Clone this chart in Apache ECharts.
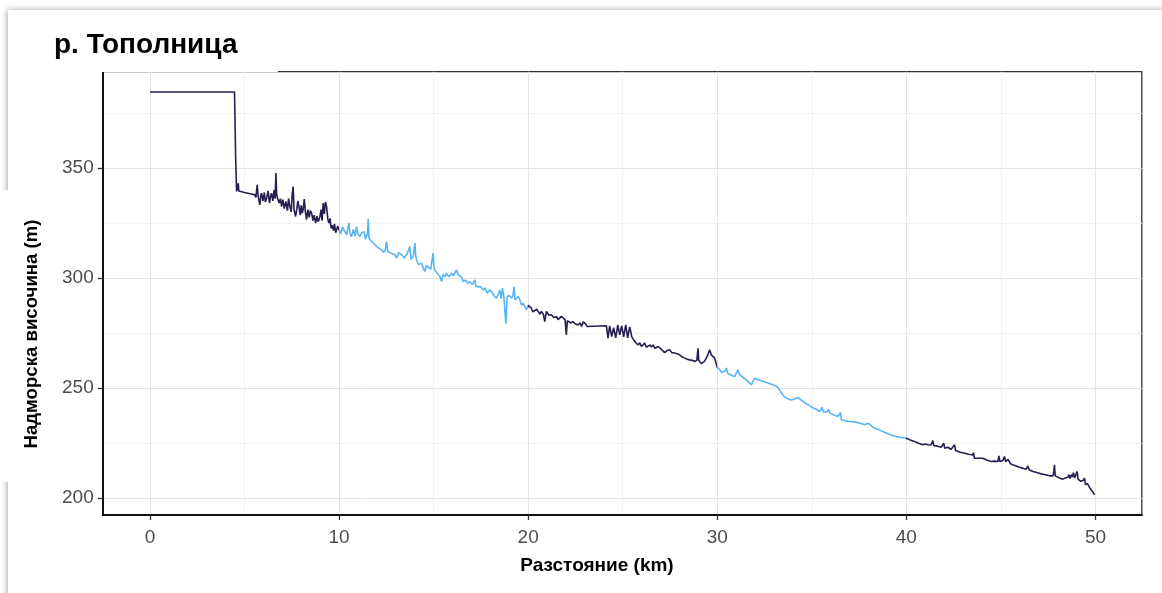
<!DOCTYPE html>
<html>
<head>
<meta charset="utf-8">
<script src="https://cdn.jsdelivr.net/npm/echarts@6/dist/echarts.min.js"></script>
<style>html,body{margin:0;padding:0;background:#fff}#c{width:1162px;height:593px}</style>
</head>
<body>
<div id="c"></div>
<script>
const titleText = 'р. Тополница';
const xName = 'Разстояние (km)';
const yName = 'Надморска височина (m)';
const xTicks = [0, 10, 20, 30, 40, 50];
const xMinorTicks = [5, 15, 25, 35, 45];
const yTicks = [200, 250, 300, 350];
const yMinorTicks = [225, 275, 325, 375];
const stretchBounds = [10, 20, 30, 40];
const stretchColors = ['#251e50', '#56b4f4', '#251e50', '#56b4f4', '#251e50'];

const distKm = [
0,4.47,4.50,4.53,4.58,4.63,4.67,4.70,5.0,5.3,5.55,5.60,5.67,5.72,5.81,5.86,5.90,5.97,6.05,6.10,6.17,6.25,6.32,6.38,6.43,6.50,6.57,6.62,6.66,6.70,6.75,6.83,6.90,6.96,7.03,7.10,7.19,7.27,7.33,7.40,7.47,7.52,7.57,7.62,7.70,7.76,7.82,7.88,7.95,8.00,8.05,8.10,8.16,8.22,8.28,8.35,8.42,8.48,8.55,8.62,8.68,8.76,8.83,8.90,8.99,9.05,9.10,9.16,9.22,9.28,9.34,9.40,9.46,9.52,9.58,9.64,9.70,9.76,9.82,9.87,9.93,10.0,
10.08,10.18,10.31,10.40,10.52,10.58,10.66,10.75,10.85,10.92,11.0,11.10,11.20,11.33,11.40,11.50,11.54,11.58,11.72,11.85,11.98,12.1,12.25,12.35,12.45,12.51,12.58,12.68,12.80,12.95,13.05,13.15,13.30,13.45,13.60,13.74,13.80,13.92,14.01,14.05,14.10,14.2,14.36,14.45,14.53,14.62,14.71,14.85,14.97,15.02,15.06,15.20,15.33,15.42,15.50,15.60,15.68,15.80,15.95,16.05,16.21,16.30,16.38,16.50,16.56,16.70,16.80,16.91,17.05,17.18,17.25,17.35,17.50,17.62,17.72,17.83,17.95,18.06,18.18,18.32,18.42,18.50,18.57,18.64,18.72,18.82,18.89,19.0,19.12,19.20,19.25,19.30,19.38,19.48,19.56,19.65,19.73,19.82,19.91,20.0,
20.08,20.17,20.25,20.35,20.45,20.52,20.62,20.70,20.80,20.88,20.93,20.97,21.1,21.23,21.35,21.50,21.58,21.67,21.75,21.84,21.95,22.02,22.07,22.11,22.25,22.37,22.50,22.64,22.75,22.82,22.92,22.99,23.05,23.11,24.14,24.22,24.31,24.42,24.52,24.63,24.74,24.84,24.95,25.05,25.16,25.26,25.37,25.48,25.58,25.70,25.81,25.90,25.99,26.08,26.16,26.25,26.34,26.45,26.52,26.60,26.70,26.78,26.88,26.96,27.10,27.22,27.35,27.48,27.60,27.75,27.88,28.01,28.15,28.28,28.40,28.54,28.68,28.81,28.92,28.98,29.02,29.07,29.15,29.24,29.32,29.42,29.50,29.60,29.68,29.77,29.86,29.93,30.0,
30.13,30.22,30.30,30.40,30.48,30.56,30.66,30.80,30.92,31.02,31.09,31.18,31.27,31.40,31.54,31.68,31.80,31.90,31.98,32.10,32.24,32.40,32.59,32.75,32.94,33.10,33.21,33.30,33.39,33.52,33.65,33.80,33.92,34.10,34.27,34.40,34.53,34.70,34.88,35.05,35.24,35.41,35.50,35.55,35.60,35.67,35.80,35.90,35.95,36.03,36.20,36.38,36.48,36.52,36.56,36.78,37.0,37.22,37.44,37.60,37.79,37.92,38.05,38.18,38.32,38.55,38.76,39.0,39.20,39.42,39.64,39.82,40.0,
40.2,40.43,40.65,40.87,41.0,41.14,41.30,41.40,41.45,41.49,41.65,41.84,41.92,41.98,42.03,42.11,42.20,42.28,42.36,42.46,42.55,42.60,42.64,42.85,43.08,43.30,43.51,43.55,43.60,43.82,44.04,44.25,44.49,44.65,44.84,44.89,44.95,45.02,45.10,45.19,45.25,45.31,45.38,45.42,45.50,45.63,45.80,45.98,46.15,46.34,46.38,46.42,46.50,46.69,46.90,47.13,47.35,47.57,47.75,47.80,47.83,47.87,47.92,48.10,48.27,48.40,48.54,48.60,48.65,48.72,48.78,48.84,48.90,48.94,48.98,49.03,49.08,49.12,49.22,49.30,49.36,49.42,49.47,49.53,49.58,49.64,49.70,49.77,49.85,49.95
];
const elevM = [
384.5,384.5,370,355,339.2,341,343,339.5,338.8,338.2,337.7,336.5,342.3,337,333.2,337.5,338.5,335,338.8,334.5,336.2,339.5,334,337,338.5,335,340,336,347.6,338,336.2,334,336,332.4,335.5,331.5,334.7,330.5,336,332.4,330,338,341.5,331,327.9,331,335,332.4,328.5,333,329.4,331,335.8,330,326.4,331,327.5,330.5,329.4,326,328.5,324.9,328,325.5,327.9,331,326,334,329,334.5,332.4,327,324.9,327,322.5,324,321.5,324.5,320.5,321,323.5,322.6,
320,323,321,319.5,324.9,320,318.8,322,319,323.3,320,318.8,320.5,321,317.5,320,326.7,318,316.5,315.5,314.2,313.5,312.7,311.5,313,316.5,312,312,311,310.5,309,311.5,310.5,309,311,314.2,308.5,309.7,315.8,310,308.2,306,306.7,304.5,302.9,305.5,305.1,304,311.2,305,303.6,302,300.6,298.3,301.5,300.5,302.1,300.5,302.1,301,303.6,301.5,302.1,300,298.3,299,297.5,298.3,297,299.1,296,295.3,296,294.5,295.5,293,294.5,293.8,292,290.8,292.5,294.5,290.5,295.3,291,279.1,291.5,292,290.8,292,296,290,289.2,291.5,290,287.5,288.5,287,285.5,287.5,
287.5,286.2,284.5,284,285.8,285.5,283.5,284.7,283.5,280.1,283,284.7,283,283.2,282,282.4,281,280.9,282.5,281.7,281,274.1,280.5,280.9,279.5,280.1,279,278.6,279.5,277.9,280,280.9,279,277.9,278.2,272.6,278.2,273.3,277.3,272.7,278.6,274.1,278.2,273.2,278.6,272.7,277.7,273.2,271.8,270.5,269.5,270.5,268.8,269.5,270.3,268.5,268,269.5,268.5,269.5,268,267.3,268.8,268.5,267,266,267,267.3,266,265.8,265.5,265,264,263.5,263,262.7,262.5,262,262.5,268,262.5,262,261,260.5,262,263.5,265,267.3,265,265.8,263.5,263,259.4,
258.2,257,256.7,257.5,259,256.5,255.9,255.5,255.1,256,258.2,256,255.1,254.5,253.6,252.5,251.4,253,254.4,253.8,253.6,253,252.4,252,251.4,250.8,250.3,249,247.6,246.2,245.3,244.8,244.5,245,245.6,244.6,243.8,242.8,241.8,241,240.3,239.2,239.5,241.2,239,238.8,239,240.3,238.5,238.2,237.5,237,237,238.8,235.5,235,234.7,234.5,234.2,233.8,233.2,233.8,233.6,232.5,231.7,230.9,230.1,229.3,228.6,228,227.6,227.3,227.1,
226.3,225.6,224.8,224.1,224.5,224.1,224,226,223.8,223.6,223.5,223,223.5,224.8,222.5,222.1,223,223.3,222,221.5,224.1,221.5,221,220.7,220.3,219.8,219.5,220.5,218,218,218,217.2,216.5,216.7,216.5,219.1,216.5,216,217,218.8,216.5,216,217.5,218,215.5,215,214.5,213.9,213.5,213,213.2,214.5,212.8,212,211.5,210.9,210.5,210,210,212,215,210,209.4,209,208.5,209,209.4,210.5,208.8,210.5,209.5,211.5,209,209.7,208.5,212,208.5,208.2,207.5,207,208,209,206,205.1,206.5,206.7,204.5,203.6,202.8,201.4
];

const seriesData = distKm.map((d, i) => [d, elevM[i]]);
const pieces = stretchColors.map((c, i) => {
  const p = { color: c };
  if (i > 0) p.gte = stretchBounds[i - 1];
  if (i < stretchBounds.length) p.lt = stretchBounds[i];
  return p;
});

const FONT = '"Liberation Sans", Arial, sans-serif';
const X_MIN = -2.5, X_MAX = 52.45, Y_MIN = 192.2, Y_MAX = 393.7;
const gridPos = { left: 102.7, right: 20.2, top: 71.7, bottom: 78 };

const chart = echarts.init(document.getElementById('c'), null, { renderer: 'canvas' });
chart.setOption({
  animation: false,
  backgroundColor: '#ffffff',
  graphic: [
    { type: 'rect', z: -100, silent: true,
      shape: { x: 8, y: 10, width: 1170, height: 600 },
      style: { fill: '#ffffff', shadowBlur: 6, shadowColor: 'rgba(0,0,0,0.35)', shadowOffsetX: -1, shadowOffsetY: 0 } },
    { type: 'rect', z: 100, silent: true,
      shape: { x: 0, y: 190, width: 22, height: 292 }, style: { fill: '#ffffff' } },
    { type: 'rect', z: 100, silent: true,
      shape: { x: 40, y: 22, width: 238, height: 50 }, style: { fill: '#ffffff' } },
    { type: 'text', z: 101, x: 54, y: 45,
      style: { text: titleText, font: 'bold 28px ' + FONT, fill: '#000000', align: 'left', verticalAlign: 'middle' } },
    { type: 'text', z: 101, x: 597, y: 566,
      style: { text: xName, font: 'bold 19px ' + FONT, fill: '#000000', align: 'center', verticalAlign: 'middle' } },
    { type: 'text', z: 101, x: 32, y: 334, rotation: Math.PI / 2,
      style: { text: yName, font: 'bold 18.6px ' + FONT, fill: '#000000', align: 'center', verticalAlign: 'middle' } }
  ],
  grid: Object.assign({ show: true, borderColor: '#333333', borderWidth: 1.3, backgroundColor: 'transparent' }, gridPos),
  visualMap: { show: false, type: 'piecewise', dimension: 0, seriesIndex: 0, pieces: pieces },
  xAxis: [
    { type: 'value', min: X_MIN, max: X_MAX, position: 'bottom',
      axisLine: { show: true, onZero: false, lineStyle: { color: '#111', width: 2 } },
      axisTick: { show: true, length: 5, customValues: xTicks, lineStyle: { color: '#333', width: 1.3 } },
      axisLabel: { customValues: xTicks, color: '#4d4d4d', fontSize: 19, fontFamily: FONT, margin: 13 },
      splitLine: { show: true, lineStyle: { color: '#e4e4e4', width: 1 } } },
    { type: 'value', min: X_MIN, max: X_MAX, position: 'top',
      axisLine: { show: false }, axisLabel: { show: false },
      axisTick: { show: false, customValues: xMinorTicks },
      splitLine: { show: true, lineStyle: { color: '#f0f0f0', width: 1 } } }
  ],
  yAxis: [
    { type: 'value', min: Y_MIN, max: Y_MAX, position: 'left',
      axisLine: { show: true, onZero: false, lineStyle: { color: '#111', width: 2 } },
      axisTick: { show: true, length: 5, customValues: yTicks, lineStyle: { color: '#333', width: 1.3 } },
      axisLabel: { customValues: yTicks, color: '#4d4d4d', fontSize: 19, fontFamily: FONT, margin: 9 },
      splitLine: { show: true, lineStyle: { color: '#e4e4e4', width: 1 } } },
    { type: 'value', min: Y_MIN, max: Y_MAX, position: 'right',
      axisLine: { show: false }, axisLabel: { show: false },
      axisTick: { show: false, customValues: yMinorTicks },
      splitLine: { show: true, lineStyle: { color: '#f0f0f0', width: 1 } } }
  ],
  series: [{
    type: 'line', xAxisIndex: 0, yAxisIndex: 0,
    data: seriesData, showSymbol: false, symbol: 'none',
    lineStyle: { width: 1.6 }, z: 5
  }]
});
</script>
</body>
</html>
